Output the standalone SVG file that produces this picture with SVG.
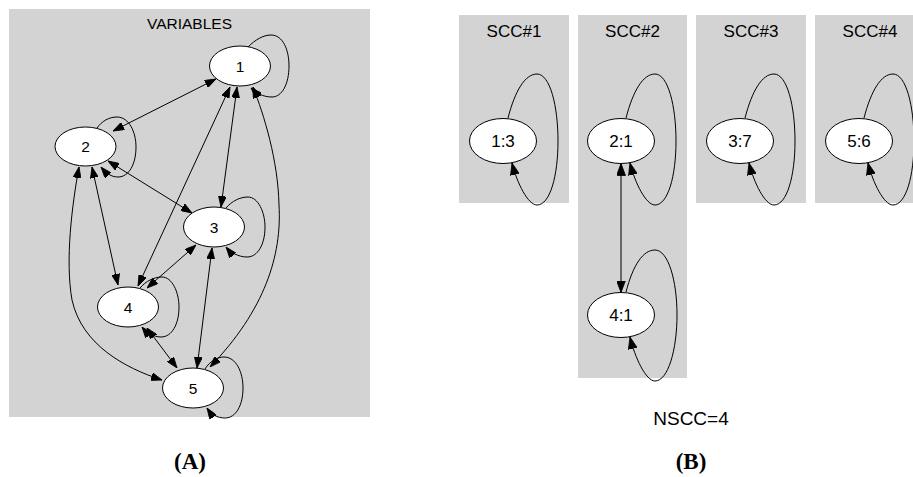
<svg xmlns="http://www.w3.org/2000/svg" width="913" height="477" viewBox="0 0 913 477">
<style>
.cl{fill:#d3d3d3;stroke:none}
.nd{fill:#fff;stroke:#000;stroke-width:1}
.e{fill:none;stroke:#000;stroke-width:1}
.ea{marker-end:url(#ah)}
.eb{marker-start:url(#ah);marker-end:url(#ah)}
.fa{marker-end:url(#bh)}
.fb{marker-start:url(#bh);marker-end:url(#bh)}
.ta{font-family:"Liberation Sans",Arial,sans-serif;font-size:15.5px;text-anchor:middle;fill:#000}
.tb{font-family:"Liberation Sans",Arial,sans-serif;font-size:17px;text-anchor:middle;fill:#000}
.cap{font-family:"Liberation Serif","Times New Roman",serif;font-size:23px;font-weight:bold;text-anchor:middle;fill:#000}
</style>
<defs>
<marker id="ah" viewBox="0 0 11 8" refX="11" refY="4" markerWidth="11" markerHeight="8" markerUnits="userSpaceOnUse" orient="auto-start-reverse">
<path d="M0,0 L11,4 L0,8 Z" fill="#000" stroke="#000" stroke-width="0.8"/>
</marker>
<marker id="bh" viewBox="0 0 12 9" refX="12" refY="4.5" markerWidth="12" markerHeight="9" markerUnits="userSpaceOnUse" orient="auto-start-reverse">
<path d="M0,0 L12,4.5 L0,9 Z" fill="#000" stroke="#000" stroke-width="0.8"/>
</marker>
</defs>

<g id="panelA">
<rect id="clusterVariables" class="cl" x="9" y="9" width="361" height="408"/>
<text class="ta" x="189.5" y="29">VARIABLES</text>

<g id="edgesA">
<path class="e ea" d="M248,47 C255,40 263,35 271,35 C283,35 289,50 289,66 C289,84 282,97 272,97 C263,97 256,93 251,88"/>
<path class="e eb" d="M113,131 L216,79"/>
<path class="e ea" d="M97,128 C102,121 109,117 117,117 C129,117 136,132 136,147 C136,164 129,177 118,177 C111,177 106,173 101,167"/>
<path class="e eb" d="M108,161 L192,213"/>
<path class="e eb" d="M92,167 L118,285"/>
<path class="e eb" d="M79,167 C72,205 65,260 72,300 C82,345 125,368 162,380"/>
<path class="e eb" d="M230,87 L138,286"/>
<path class="e eb" d="M237,87 L221,207"/>
<path class="e eb" d="M253,87 C264,115 278,160 279,205 C282,255 265,310 210,367"/>
<path class="e ea" d="M226,208 C232,201 240,197 248,197 C258,197 265,212 265,227 C265,244 258,257 247,257 C238,257 230,252 226,247"/>
<path class="e eb" d="M196,245 L147,288"/>
<path class="e eb" d="M212,248 L197,368"/>
<path class="e ea" d="M140,288 C146,281 154,277 162,277 C172,277 179,292 179,307 C179,324 172,337 161,337 C153,337 146,332 142,327"/>
<path class="e eb" d="M147,328 L177,368"/>
<path class="e ea" d="M205,369 C210,361 217,357 224,357 C236,357 243,372 243,388 C243,405 236,418 225,418 C217,418 211,414 207,408"/>
</g>

<g id="n1"><ellipse class="nd" cx="240" cy="66" rx="30.5" ry="20"/><text class="ta" x="240" y="71.5">1</text></g>
<g id="n2"><ellipse class="nd" cx="85.5" cy="146.5" rx="30.5" ry="19.5"/><text class="ta" x="85.5" y="152">2</text></g>
<g id="n3"><ellipse class="nd" cx="214" cy="227" rx="30.5" ry="20"/><text class="ta" x="214" y="232.5">3</text></g>
<g id="n4"><ellipse class="nd" cx="128" cy="307" rx="30.5" ry="20"/><text class="ta" x="128" y="312.5">4</text></g>
<g id="n5"><ellipse class="nd" cx="193" cy="388" rx="30.5" ry="20"/><text class="ta" x="193" y="393.5">5</text></g>

<text class="cap" x="190" y="469">(A)</text>
</g>

<g id="panelB">
<rect id="scc1" class="cl" x="459" y="15" width="110" height="188"/>
<rect id="scc2" class="cl" x="578" y="15" width="109" height="363"/>
<rect id="scc3" class="cl" x="696" y="15" width="110" height="188"/>
<rect id="scc4" class="cl" x="815" y="15" width="110" height="188"/>
<text class="tb" x="514" y="37">SCC#1</text>
<text class="tb" x="632.5" y="37">SCC#2</text>
<text class="tb" x="751" y="37">SCC#3</text>
<text class="tb" x="870" y="37">SCC#4</text>

<g id="edgesB">
<path class="e fa" transform="translate(503,141)" d="M5,-23 C12,-50 22,-67 34,-67 C47,-67 55,-35 55,0 C55,35 47,64 34,64 C25,64 14,42 9,22"/>
<path class="e fa" transform="translate(621,141)" d="M5,-23 C12,-50 22,-67 34,-67 C47,-67 55,-35 55,0 C55,35 47,64 34,64 C25,64 14,42 9,22"/>
<path class="e fa" transform="translate(740,141)" d="M5,-23 C12,-50 22,-67 34,-67 C47,-67 55,-35 55,0 C55,35 47,64 34,64 C25,64 14,42 9,22"/>
<path class="e fa" transform="translate(859,141)" d="M5,-23 C12,-50 22,-67 34,-67 C47,-67 55,-35 55,0 C55,35 47,64 34,64 C25,64 14,42 9,22"/>
<path class="e fa" transform="translate(621,315)" d="M5,-23 C12,-50 22,-65 34,-65 C47,-65 56,-35 56,0 C56,35 47,66 34,66 C25,66 14,43 9,22"/>
<path class="e fb" d="M621,163.5 L621,292.5"/>
</g>

<g id="b13"><ellipse class="nd" cx="503" cy="141" rx="33.5" ry="22.5"/><text class="tb" x="503" y="147">1:3</text></g>
<g id="b21"><ellipse class="nd" cx="621" cy="141" rx="33.5" ry="22.5"/><text class="tb" x="621" y="147">2:1</text></g>
<g id="b37"><ellipse class="nd" cx="740" cy="141" rx="33.5" ry="22.5"/><text class="tb" x="740" y="147">3:7</text></g>
<g id="b56"><ellipse class="nd" cx="859" cy="141" rx="33.5" ry="22.5"/><text class="tb" x="859" y="147">5:6</text></g>
<g id="b41"><ellipse class="nd" cx="621" cy="315" rx="33.5" ry="22.5"/><text class="tb" x="621" y="321">4:1</text></g>

<text class="tb" x="691" y="425" style="font-size:19px">NSCC=4</text>
<text class="cap" x="691" y="469">(B)</text>
</g>
</svg>
